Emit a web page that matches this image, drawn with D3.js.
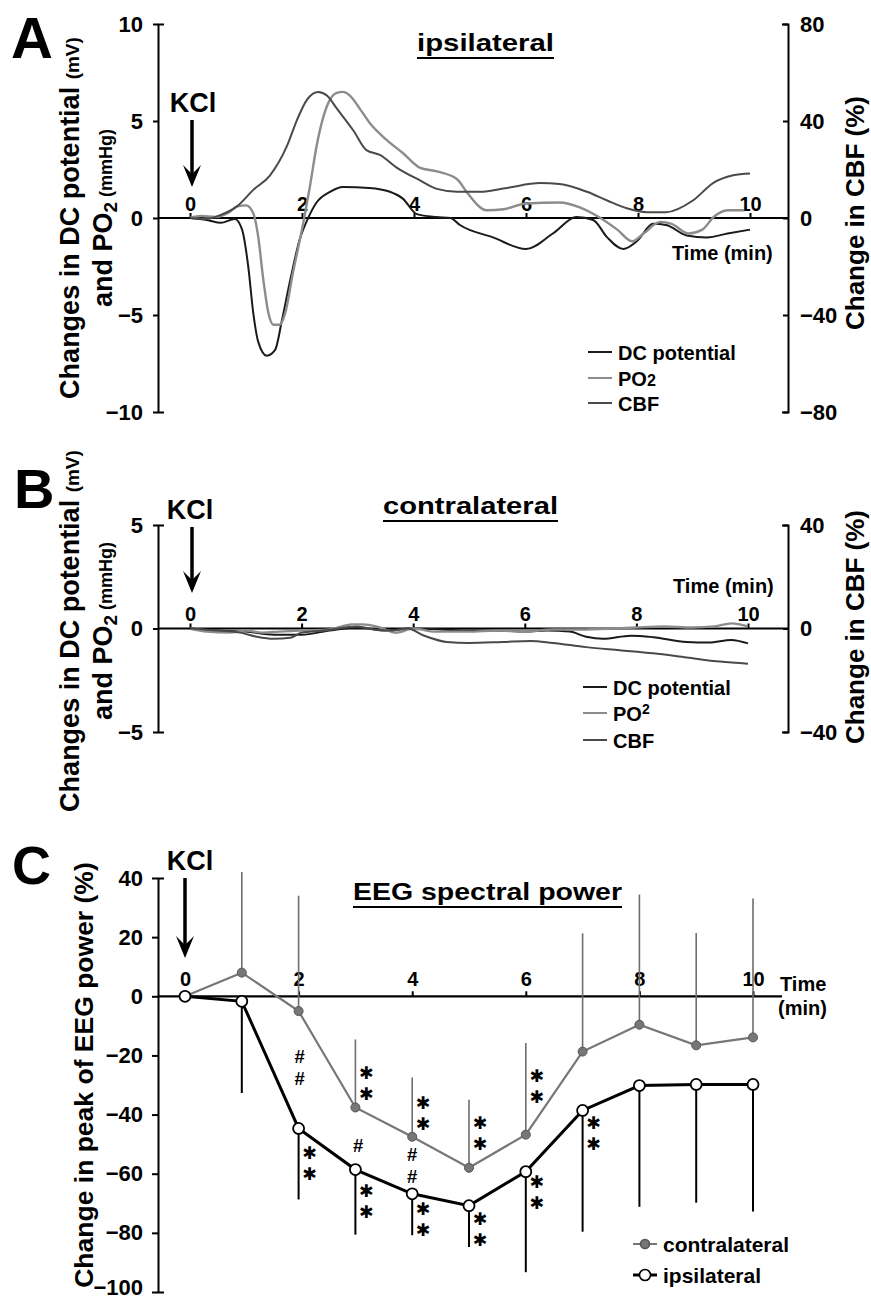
<!DOCTYPE html>
<html lang="en">
<head>
<meta charset="utf-8">
<title>KCl: DC potential, PO2, CBF and EEG spectral power</title>
<script src="https://d3js.org/d3.v7.min.js"></script>
<style>
  body { margin: 0; background: #fff; }
</style>
</head>
<body>
<div id="mainDiv"></div>
<script type="text/javascript">
const width = 871
const height = 1301
const FONT = '"Liberation Sans", Arial, Helvetica, sans-serif'

// ---- panel A, ipsilateral traces (time in min) ----
const dcTimeA = [0, 0.3, 0.55, 0.8, 0.93, 1.04, 1.13, 1.22, 1.37, 1.52, 1.64, 1.79, 1.96, 2.11, 2.26, 2.5, 2.73, 3.2, 3.57, 3.8, 4.05, 4.4, 4.65, 4.82, 5.41, 6.0, 6.48, 6.9, 7.2, 7.45, 7.74, 7.98, 8.27, 8.5, 8.87, 9.23, 9.6, 10]
const dcA = [0, -0.1, -0.25, -0.05, -0.6, -2.5, -4.9, -6.4, -7.1, -6.8, -5.3, -3.2, -1.1, 0, 0.8, 1.35, 1.6, 1.55, 1.35, 1.0, 0.2, 0.05, 0, -0.36, -1.0, -1.6, -0.8, 0.05, -0.1, -1.0, -1.6, -1.2, -0.3, -0.36, -0.9, -1.0, -0.8, -0.6]
const po2TimeA = [0, 0.2, 0.45, 0.7, 0.84, 1.0, 1.13, 1.22, 1.31, 1.4, 1.49, 1.6, 1.7, 1.84, 2.02, 2.14, 2.26, 2.38, 2.5, 2.62, 2.73, 2.86, 3.04, 3.21, 3.52, 3.8, 4.1, 4.41, 4.77, 4.95, 5.3, 5.6, 6.0, 6.6, 6.96, 7.3, 7.63, 7.9, 8.1, 8.4, 8.6, 8.9, 9.15, 9.35, 9.6, 9.9]
const po2A = [0, 0.1, 0.05, 0.3, 0.6, 0.65, 0.25, -1.0, -3.2, -4.9, -5.5, -5.5, -4.9, -2.8, -0.3, 1.6, 3.7, 5.2, 6.1, 6.45, 6.5, 6.3, 5.6, 4.9, 4.0, 3.35, 2.6, 2.4, 2.0, 1.3, 0.4, 0.45, 0.75, 0.8, 0.55, 0.05, -0.6, -1.2, -0.8, -0.2, -0.3, -0.8, -0.6, 0.05, 0.4, 0.4]
const cbfTimeA = [0, 0.3, 0.54, 0.84, 1.13, 1.43, 1.73, 1.91, 2.09, 2.29, 2.45, 2.62, 2.92, 3.15, 3.39, 3.69, 4.1, 4.41, 4.77, 5.18, 5.66, 6.25, 6.6, 7.09, 7.45, 7.8, 8.16, 8.5, 8.98, 9.34, 9.7, 10]
const cbfA = [0, -0.4, 1.2, 4.8, 11.6, 17.6, 29.6, 40.4, 48.8, 52, 50.4, 45.2, 36, 28, 26, 20.8, 15.6, 12, 10.8, 10.8, 12.4, 14.4, 14, 10.8, 7.2, 4, 2.4, 2.4, 7.2, 14.4, 17.6, 18.4]

// ---- panel B, contralateral traces ----
const dcTimeB = [0, 0.5, 1.0, 1.5, 2.0, 2.5, 3.0, 3.5, 4.0, 4.5, 5.0, 5.5, 6.0, 6.4, 6.8, 7.1, 7.4, 7.9, 8.3, 8.9, 9.3, 9.7, 10]
const dcB = [0, -0.1, -0.15, -0.3, -0.3, -0.1, 0.05, -0.1, 0, -0.05, -0.1, -0.1, -0.15, -0.1, -0.15, -0.4, -0.5, -0.35, -0.42, -0.65, -0.68, -0.55, -0.72]
const po2TimeB = [0, 0.3, 0.7, 1.0, 1.3, 1.6, 2.0, 2.5, 2.9, 3.1, 3.4, 3.7, 4.0, 4.4, 5.0, 5.5, 6.0, 6.5, 7.0, 7.6, 8.0, 8.5, 9.0, 9.4, 9.7, 10]
const po2B = [0, -0.15, -0.2, -0.1, -0.2, -0.15, -0.1, -0.05, 0.2, 0.2, 0.05, -0.2, 0, -0.15, -0.15, -0.1, -0.15, -0.05, -0.05, 0, 0.05, 0.1, 0.05, 0.1, 0.25, 0.1]
const cbfTimeB = [0, 0.5, 0.9, 1.2, 1.5, 1.8, 2.0, 2.4, 3.0, 3.3, 3.6, 3.9, 4.2, 4.6, 5.0, 5.6, 6.1, 6.5, 7.1, 7.7, 8.3, 8.9, 9.5, 10]
const cbfB = [0, -0.8, -1.6, -3.2, -4, -3.6, -1.6, -0.8, 0.8, -0.4, -0.8, 0, -2.8, -5.2, -5.6, -5.2, -4.8, -5.6, -7.2, -8.4, -9.6, -11.2, -12.8, -13.6]

// ---- panel C, EEG spectral power (mean, one-sided SD) ----
const minutes = [0, 1, 2, 3, 4, 5, 6, 7, 8, 9, 10]
const contraMean = [0, 8, -5, -37.6, -47.5, -58, -46.8, -18.7, -9.6, -16.6, -13.9]
const contraSD = [0, 34, 39, 23, 20, 23, 31, 40, 44, 38, 47]
const ipsiMean = [0, -1.7, -44.7, -58.6, -66.8, -70.8, -59.3, -38.6, -30.2, -29.8, -29.8]
const ipsiSD = [0, 31, 24, 22, 14, 14, 34, 41, 41, 40, 43]

// significance marks: ** vs baseline, # between sides
const contraStarTimes = [3, 4, 5, 6]
const contraStarLevels = [-29.3, -39.5, -46.1, -30.5]
const ipsiStarTimes = [2, 3, 4, 5, 6, 7]
const ipsiStarLevels = [-56.3, -69.2, -75.3, -78.6, -66.1, -46.4]
const hashTimes = [2.02, 3.05, 4.0]
const hashLevels = [-24.2, -50.5, -57.3]
const hashCounts = [2, 1, 2]

const timeTicks = [0, 2, 4, 6, 8, 10]
const traceNames = ['DC potential', 'PO2', 'CBF']
const traceColors = ['#1a1a1a', '#8c8c8c', '#4a4a4a']

const svg = d3.select('#mainDiv').append('svg')
    .attr('width', width)
    .attr('height', height)
    .style('display', 'block')
svg.append('rect').attr('width', width).attr('height', height).attr('fill', '#fff')

const leftX = 158
const rightX = 788

function styleAxis(g, size) {
    g.attr('font-family', FONT).attr('font-weight', 'bold').attr('font-size', size)
    g.selectAll('path, line').attr('stroke', '#000').attr('stroke-width', 2)
    g.selectAll('text').attr('fill', '#000')
}

function addText(txt, x, y, size, anchor) {
    return svg.append('text')
        .attr('x', x).attr('y', y)
        .attr('font-family', FONT).attr('font-weight', 'bold')
        .attr('font-size', size)
        .attr('text-anchor', anchor || 'start')
        .text(txt)
}

function addArrow(x, y1, y2) {
    svg.append('line').attr('x1', x).attr('x2', x).attr('y1', y1).attr('y2', y2 - 10)
        .attr('stroke', '#000').attr('stroke-width', 3.5)
    svg.append('path')
        .attr('d', `M${x - 9},${y2 - 22} L${x},${y2} L${x + 9},${y2 - 22} L${x},${y2 - 13} Z`)
        .attr('fill', '#000')
}

function addTitle(txt, x, y, w, size) {
    addText(txt, x, y, size)
        .attr('textLength', w)
        .attr('lengthAdjust', 'spacingAndGlyphs')
    svg.append('line').attr('x1', x).attr('x2', x + w).attr('y1', y + 7).attr('y2', y + 7)
        .attr('stroke', '#000').attr('stroke-width', 2)
}

function drawTraces(p) {
    const x = d3.scaleLinear().domain([0, 10]).range(p.xRange)
    const y = d3.scaleLinear().domain(p.leftDomain).range(p.yRange)
    const yR = d3.scaleLinear().domain(p.rightDomain).range(p.yRange)

    const la = svg.append('g').attr('transform', `translate(${leftX},0)`)
        .call(d3.axisLeft(y).tickValues(p.leftTicks).tickSizeInner(5).tickSizeOuter(-6).tickPadding(10))
    styleAxis(la, 22)
    const ra = svg.append('g').attr('transform', `translate(${rightX},0)`)
        .call(d3.axisRight(yR).tickValues(p.rightTicks).tickSizeInner(-5).tickSizeOuter(-6).tickPadding(12))
    styleAxis(ra, 22)

    svg.append('line').attr('x1', leftX).attr('x2', rightX).attr('y1', y(0)).attr('y2', y(0))
        .attr('stroke', '#000').attr('stroke-width', 2.2)
    const xa = svg.append('g').attr('transform', `translate(0,${y(0)})`)
        .call(d3.axisTop(x).tickValues(timeTicks).tickSizeInner(5).tickSizeOuter(0).tickPadding(p.xPad))
    xa.select('.domain').remove()
    styleAxis(xa, 20)

    p.series.forEach((s, i) => {
        const sc = s.axis === 'right' ? yR : y
        const line = d3.line().x(d => x(d[0])).y(d => sc(d[1])).curve(d3.curveMonotoneX)
        svg.append('path')
            .attr('d', line(d3.zip(s.t, s.v)))
            .attr('fill', 'none')
            .attr('stroke', traceColors[i])
            .attr('stroke-width', i === 1 ? 2.4 : 2)
            .attr('stroke-linejoin', 'round')
    })

    // legend
    traceNames.forEach((name, i) => {
        const ly = p.legendRows[i]
        svg.append('line').attr('x1', p.legendX).attr('x2', p.legendX + 24).attr('y1', ly).attr('y2', ly)
            .attr('stroke', traceColors[i]).attr('stroke-width', 2)
        const t = addText('', p.legendX + 30, ly + 7.5, 20)
        if (name === 'PO2') {
            t.append('tspan').text('PO')
            t.append('tspan').text('2').attr('font-size', p.subSize).attr('dy', p.subDy)
        } else {
            t.text(name)
        }
    })

    // panel letter, title, KCl arrow, time label
    addText(p.letter, p.letterPos[0], p.letterPos[1], p.letterSize)
    addTitle(p.title, p.titlePos[0], p.titlePos[1], p.titleW, 24)
    addText('KCl', p.kcl[0], p.kcl[1], 27, 'middle')
    addArrow(x(0) + 2, p.kcl[1] + 8, p.arrowEnd)
    addText('Time (min)', p.timePos[0], p.timePos[1], 20)

    // y axis titles
    const yl = svg.append('g').attr('font-family', FONT).attr('font-weight', 'bold')
    const l1 = yl.append('text').attr('transform', `translate(79,${p.yLabelMid}) rotate(-90)`)
        .attr('text-anchor', 'middle').attr('font-size', 27)
    l1.append('tspan').text('Changes in DC potential ')
    l1.append('tspan').text('(mV)').attr('font-size', 19)
    const l2 = yl.append('text').attr('transform', `translate(112,${p.yLabelMid}) rotate(-90)`)
        .attr('text-anchor', 'middle').attr('font-size', 27)
    l2.append('tspan').text('and PO')
    l2.append('tspan').text('2').attr('font-size', 19).attr('dy', 5)
    l2.append('tspan').text(' (mmHg)').attr('font-size', 18).attr('dy', -5)
    yl.append('text').attr('transform', `translate(864,${p.rightLabelMid}) rotate(-90)`)
        .attr('text-anchor', 'middle').attr('font-size', 26)
        .text('Change in CBF (%)')
}

drawTraces({
    letter: 'A', letterPos: [11, 58], letterSize: 58,
    xRange: [190, 750], yRange: [412, 24],
    leftDomain: [-10, 10], rightDomain: [-80, 80],
    leftTicks: [-10, -5, 0, 5, 10], rightTicks: [-80, -40, 0, 40, 80],
    xPad: 2,
    series: [
        { t: dcTimeA, v: dcA, axis: 'left' },
        { t: po2TimeA, v: po2A, axis: 'left' },
        { t: cbfTimeA, v: cbfA, axis: 'right' }
    ],
    legendX: 588, legendRows: [352, 378, 403], subSize: 16, subDy: 0,
    title: 'ipsilateral', titlePos: [417, 51], titleW: 137,
    kcl: [193, 112], arrowEnd: 187,
    timePos: [672, 260],
    yLabelMid: 218, rightLabelMid: 213
})

drawTraces({
    letter: 'B', letterPos: [14, 508], letterSize: 56,
    xRange: [190, 748], yRange: [732, 525],
    leftDomain: [-5, 5], rightDomain: [-40, 40],
    leftTicks: [-5, 0, 5], rightTicks: [-40, 0, 40],
    xPad: 3,
    series: [
        { t: dcTimeB, v: dcB, axis: 'left' },
        { t: po2TimeB, v: po2B, axis: 'left' },
        { t: cbfTimeB, v: cbfB, axis: 'right' }
    ],
    legendX: 583, legendRows: [687, 713, 740], subSize: 14, subDy: -7,
    title: 'contralateral', titlePos: [383, 514], titleW: 175,
    kcl: [190, 519], arrowEnd: 593,
    timePos: [673, 593],
    yLabelMid: 631, rightLabelMid: 627
})

// ---------------- panel C ----------------
const xC = d3.scaleLinear().domain([0, 10]).range([185, 753])
const yC = d3.scaleLinear().domain([-100, 40]).range([1292, 878])

const ca = svg.append('g').attr('transform', `translate(${leftX},0)`)
    .call(d3.axisLeft(yC).tickValues([-100, -80, -60, -40, -20, 0, 20, 40]).tickSizeInner(6).tickSizeOuter(-6).tickPadding(9))
styleAxis(ca, 22)
// keep the bottom label inside the picture
ca.selectAll('.tick').filter(d => d === -100).select('text').attr('dy', '0.1em')

svg.append('line').attr('x1', leftX).attr('x2', 782).attr('y1', yC(0)).attr('y2', yC(0))
    .attr('stroke', '#000').attr('stroke-width', 2.2)
const cxa = svg.append('g').attr('transform', `translate(0,${yC(0)})`)
    .call(d3.axisTop(xC).tickValues(timeTicks).tickSizeInner(5).tickSizeOuter(0).tickPadding(5))
cxa.select('.domain').remove()
styleAxis(cxa, 20)

const contraPts = minutes.map((t, i) => ({ t: t, m: contraMean[i], sd: contraSD[i] }))
const ipsiPts = minutes.map((t, i) => ({ t: t, m: ipsiMean[i], sd: ipsiSD[i] }))

// error bars
svg.append('g').selectAll('line')
    .data(contraPts.filter(d => d.sd > 0))
    .join('line')
    .attr('x1', d => xC(d.t)).attr('x2', d => xC(d.t))
    .attr('y1', d => yC(d.m)).attr('y2', d => yC(d.m + d.sd))
    .attr('stroke', '#6e6e6e').attr('stroke-width', 1.6)
svg.append('g').selectAll('line')
    .data(ipsiPts.filter(d => d.sd > 0))
    .join('line')
    .attr('x1', d => xC(d.t)).attr('x2', d => xC(d.t))
    .attr('y1', d => yC(d.m)).attr('y2', d => yC(d.m - d.sd))
    .attr('stroke', '#000').attr('stroke-width', 2)

const lineC = d3.line().x(d => xC(d.t)).y(d => yC(d.m))
svg.append('path').attr('d', lineC(contraPts))
    .attr('fill', 'none').attr('stroke', '#777').attr('stroke-width', 2.2)
svg.append('path').attr('d', lineC(ipsiPts))
    .attr('fill', 'none').attr('stroke', '#000').attr('stroke-width', 3)

svg.append('g').selectAll('circle')
    .data(contraPts)
    .join('circle')
    .attr('cx', d => xC(d.t)).attr('cy', d => yC(d.m)).attr('r', 4.5)
    .attr('fill', '#777').attr('stroke', '#555').attr('stroke-width', 1)
svg.append('g').selectAll('circle')
    .data(ipsiPts)
    .join('circle')
    .attr('cx', d => xC(d.t)).attr('cy', d => yC(d.m)).attr('r', 5.5)
    .attr('fill', '#fff').attr('stroke', '#000').attr('stroke-width', 1.8)

// stacked significance symbols
function stackMarks(t, level, count, glyph, size, dx, gap, lift, family) {
    const cx = xC(t) + dx
    const top = yC(level) - (count - 1) / 2 * gap + lift
    for (let k = 0; k < count; k++) {
        addText(glyph, cx, top + k * gap, size, 'middle')
            .attr('font-family', family)
    }
}
contraStarTimes.forEach((t, i) => stackMarks(t, contraStarLevels[i], 2, '\u2731', 17.5, 11, 21, 6.5, '"DejaVu Sans"'))
ipsiStarTimes.forEach((t, i) => stackMarks(t, ipsiStarLevels[i], 2, '\u2731', 17.5, 11, 21, 6.5, '"DejaVu Sans"'))
hashTimes.forEach((t, i) => stackMarks(t, hashLevels[i], hashCounts[i], '#', 18.5, 0, 22, 6.5, FONT))

// legend C
const legC = [
    { name: 'contralateral', y: 1244, fill: '#777', stroke: '#555', lw: 2, lc: '#777', r: 4.5 },
    { name: 'ipsilateral', y: 1275, fill: '#fff', stroke: '#000', lw: 3, lc: '#000', r: 5.5 }
]
legC.forEach(d => {
    svg.append('line').attr('x1', 633).attr('x2', 657).attr('y1', d.y).attr('y2', d.y)
        .attr('stroke', d.lc).attr('stroke-width', d.lw)
    svg.append('circle').attr('cx', 645).attr('cy', d.y).attr('r', d.r)
        .attr('fill', d.fill).attr('stroke', d.stroke).attr('stroke-width', 1.6)
    addText(d.name, 663, d.y + 7.5, 21)
})

addText('C', 12, 884, 54)
addText('KCl', 190, 870, 27, 'middle')
addArrow(xC(0), 878, 958)
addTitle('EEG spectral power', 353, 900, 269, 23)
addText('Time', 780, 991, 20)
addText('(min)', 778, 1015, 20)

svg.append('text')
    .attr('transform', 'translate(93,1075) rotate(-90)')
    .attr('text-anchor', 'middle')
    .attr('font-family', FONT).attr('font-weight', 'bold').attr('font-size', 26.5)
    .text('Change in peak of EEG power (%)')
</script>
</body>
</html>
